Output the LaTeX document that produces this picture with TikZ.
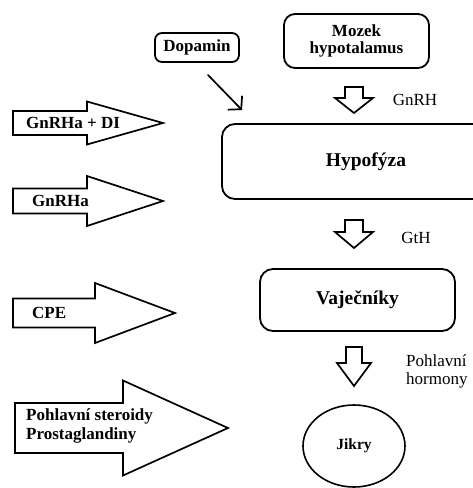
\documentclass[tikz,border=0pt]{standalone}
\usepackage{fontspec}
\setmainfont{Liberation Serif}
\usepackage{tikz}
\usetikzlibrary{positioning, arrows.meta, shapes.geometric}
\tikzset{
  >={Straight Barb[length=9pt, width=20pt, line width=1.7pt]},
  organ/.style={
    draw=black, line width=1.8pt, rounded corners=11pt,
    rectangle, align=center, inner sep=2pt,
    font=\bfseries\fontsize{17}{16.5}\selectfont
  },
  eggs/.style={
    draw=black, line width=1.6pt, ellipse, inner sep=0pt,
    minimum width=102pt, minimum height=82pt,
    font=\bfseries\fontsize{15.5}{16}\selectfont
  },
  fat/.style={
    draw=black, line width=1.7pt, line join=miter, fill=white
  },
  fattext/.style={
    anchor=west, align=left, inner sep=0pt,
    font=\bfseries\fontsize{17}{19.5}\selectfont
  },
  hormone/.style={
    align=left, inner sep=0pt,
    font=\fontsize{17}{18}\selectfont
  },
  thin/.style={
    line width=1.7pt, line cap=round
  },
}
% block arrow pointing right: x shaft, x head, x tip, y, half shaft, half head
\newcommand{\fatarrow}[6]{%
  \draw[fat] (#1,#4-#5) -- (#2,#4-#5) -- (#2,#4-#6) -- (#3,#4)
    -- (#2,#4+#6) -- (#2,#4+#5) -- (#1,#4+#5) -- cycle;}
% block arrow pointing down: x, y shaft, y head, y tip, half shaft, half head
\newcommand{\dnarrow}[6]{%
  \draw[fat] (#1-#5,#2) -- (#1+#5,#2) -- (#1+#5,#3) -- (#1+#6,#3)
    -- (#1,#4) -- (#1-#6,#3) -- (#1-#5,#3) -- (#1-#5,#2) -- cycle;}

\begin{document}
\begin{tikzpicture}[x=1pt, y=-1pt]

\path[use as bounding box, clip] (0,0) rectangle (473,488);

% main chain
\node[organ, minimum width=145pt, minimum height=54pt] (brain) at (356.5,41)
  {Mozek\\hypotalamus};
\node[organ, rounded corners=7pt, minimum width=84pt, minimum height=29pt]
  (dopamin) at (197,47.5) {Dopamin};
\node[organ, rounded corners=13pt, minimum width=288pt, minimum height=75pt,
      font=\bfseries\fontsize{19.5}{20}\selectfont]
  (pituitary) at (366,161.5) {Hypofýza};
\node[organ, rounded corners=13pt, minimum width=195pt, minimum height=62pt,
      font=\bfseries\fontsize{19.5}{20}\selectfont]
  (ovary) at (357.5,300) {Vaječníky};
\node[eggs] (roe) at (354,446) {Jikry};

% down arrows between the organs
\dnarrow{354}{87}{98}{113}{9}{19}
\dnarrow{354}{220}{232}{248}{9}{19}
\dnarrow{354}{347}{363}{386}{8}{17}

\node[hormone] (gnrh) at (415,100) {GnRH};
\node[hormone] (gth)  at (416,238) {GtH};
\node[hormone, anchor=west] (sexhorm) at (406,371) {Pohlavní\\hormony};

% dopamine acts on the pituitary
\coordinate (dopa_from) at (208,75);
\coordinate (dopa_to)   at (242,110);
\draw[thin, ->] (dopa_from) -- (dopa_to);

% treatments on the left
\fatarrow{13}{87}{163}{123}{12}{21.5}
\fatarrow{13}{87}{163}{201}{12.5}{25}
\fatarrow{13}{95}{175}{313}{14.5}{30}
\fatarrow{15}{123}{228}{428}{25}{47.5}

\node[fattext] (gnrha_di) at (26,123) {GnRHa + DI};
\node[fattext] (gnrha)    at (32,201) {GnRHa};
\node[fattext] (cpe)      at (32,313) {CPE};
\node[fattext] (steroid)  at (26,426) {Pohlavní steroidy\\Prostaglandiny};

\end{tikzpicture}
\end{document}
